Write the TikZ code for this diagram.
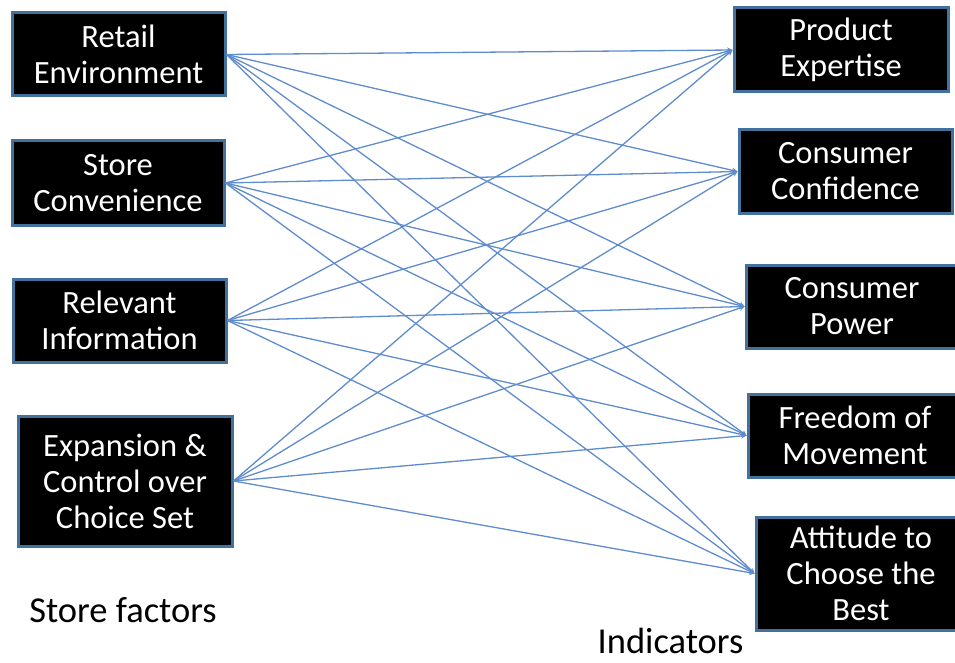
\documentclass[tikz,border=0pt]{standalone}
\usepackage{fontspec}
\setmainfont{Carlito}
\definecolor{boxline}{RGB}{65,113,156}
\definecolor{linkline}{RGB}{95,140,205}
\begin{document}
\begin{tikzpicture}
         [x=1pt, y=-1pt,
          main node/.style={rectangle,draw=boxline,fill=black,line width=3pt,text=white,align=center,
                            font=\fontsize{32.5}{36}\selectfont,inner sep=0pt},
          label node/.style={anchor=base,inner sep=0pt,font=\fontsize{36.5}{40}\selectfont}]
         \clip (0,0) rectangle (955,663);
         % store factors
         \node[main node, minimum width=213pt, minimum height=83pt] (ret) at (118.5,54.5) {Retail\\Environment};
         \node[main node, minimum width=212pt, minimum height=84pt] (con) at (118,183) {Store\\Convenience};
         \node[main node, minimum width=213pt, minimum height=83pt] (inf) at (119.5,320.5) {Relevant\\Information};
         \node[main node, minimum width=214pt, minimum height=130pt] (exp) at (125,481) {Expansion \&\\Control over\\Choice Set};
         % indicators
         \node[main node, minimum width=214pt, minimum height=84pt] (pro) at (841,50) {Product\\Expertise};
         \node[main node, minimum width=213pt, minimum height=83pt] (cnf) at (845.5,171.5) {Consumer\\Confidence};
         \node[main node, minimum width=212pt, minimum height=83pt] (pow) at (852,306.5) {Consumer\\Power};
         \node[main node, minimum width=214pt, minimum height=83pt] (fre) at (855,435.5) {Freedom of\\Movement};
         \node[main node, minimum width=210pt, minimum height=113pt] (att) at (861,573.5) {Attitude to\\Choose the\\Best};

         \node[label node] (sf) at (123,622) {Store factors};
         \node[label node] (ind) at (670.5,653) {Indicators};

         \foreach \s in {ret,con,inf,exp}
           \foreach \t in {pro,cnf,pow,fre,att}
             \draw[-stealth, linkline, line width=1.3pt] (\s.east) -- (\t.west);
      \end{tikzpicture}
\end{document}
